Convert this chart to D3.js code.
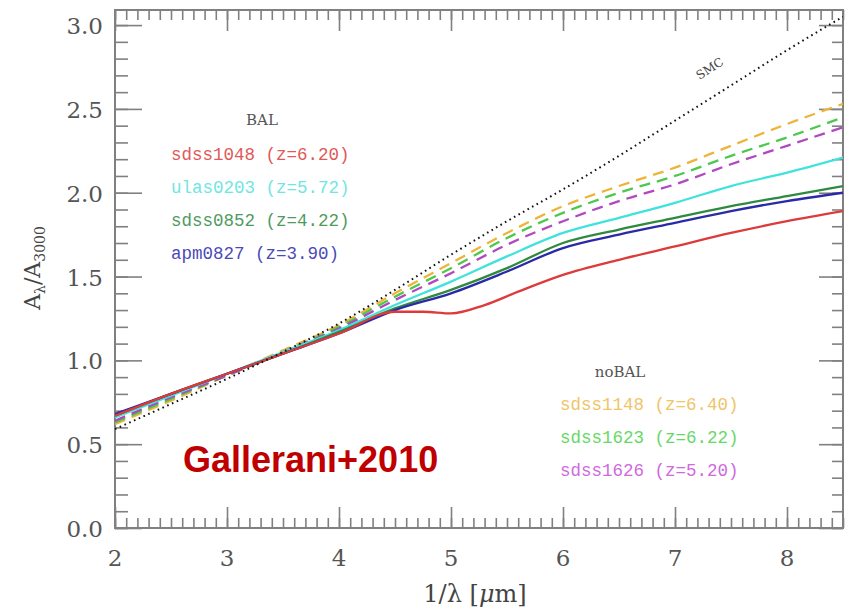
<!DOCTYPE html>
<html>
<head>
<meta charset="utf-8">
<script src="https://cdn.jsdelivr.net/npm/d3@7"></script>
<style>
  html, body { margin: 0; padding: 0; background: #fff; }
  svg { display: block; }
</style>
</head>
<body>
<svg id="chart" width="856" height="609"></svg>
<script>
// ---------- data ----------
const xGrid = [2, 2.5, 3, 3.5, 4, 4.5, 5, 5.5, 6, 6.5, 7, 7.5, 8, 8.5];

const smcX = [2, 2.5, 3, 3.5, 4, 4.5, 5, 5.5, 6, 6.5, 7, 7.5, 8, 8.5];
const smcY = [0.59, 0.74, 0.89, 1.05, 1.22, 1.42, 1.63, 1.83, 2.02, 2.22, 2.43, 2.64, 2.85, 3.05];

const redX = [2, 2.5, 3, 3.5, 4, 4.5, 4.75, 5, 5.3, 5.6, 6, 6.5, 7, 7.5, 8, 8.5];
const redY = [0.67, 0.80, 0.92, 1.04, 1.16, 1.29, 1.29, 1.28, 1.33, 1.41, 1.51, 1.60, 1.68, 1.76, 1.83, 1.89];

const blueY  = [0.68, 0.80, 0.92, 1.04, 1.16, 1.30, 1.40, 1.53, 1.67, 1.75, 1.82, 1.89, 1.95, 2.00];
const greenY = [0.67, 0.80, 0.92, 1.04, 1.17, 1.31, 1.42, 1.55, 1.70, 1.78, 1.85, 1.92, 1.98, 2.04];
const cyanY  = [0.66, 0.79, 0.92, 1.05, 1.18, 1.33, 1.47, 1.62, 1.76, 1.85, 1.94, 2.04, 2.12, 2.21];
const magY   = [0.64, 0.78, 0.91, 1.05, 1.19, 1.36, 1.52, 1.69, 1.83, 1.95, 2.05, 2.17, 2.28, 2.39];
const lgrY   = [0.63, 0.77, 0.91, 1.05, 1.20, 1.38, 1.55, 1.73, 1.88, 2.00, 2.10, 2.22, 2.33, 2.45];
const orgY   = [0.62, 0.76, 0.91, 1.06, 1.21, 1.40, 1.58, 1.76, 1.92, 2.04, 2.15, 2.28, 2.41, 2.53];

const xTicks = [2, 3, 4, 5, 6, 7, 8];
const yTicks = [0.0, 0.5, 1.0, 1.5, 2.0, 2.5, 3.0];

const balNames = ["sdss1048 (z=6.20)", "ulas0203 (z=5.72)", "sdss0852 (z=4.22)", "apm0827 (z=3.90)"];
const balColors = ["#dd3a3a", "#3fe3dc", "#2f8a3f", "#2a2aa8"];
const balText = ["#e05858", "#70e6e2", "#4f9a5f", "#4a4ab8"];
const nobalNames = ["sdss1148 (z=6.40)", "sdss1623 (z=6.22)", "sdss1626 (z=5.20)"];
const nobalColors = ["#eeb43a", "#4cc84c", "#b048c0"];
const nobalText = ["#f0c468", "#66d866", "#d068e0"];

// ---------- layout ----------
const svg = d3.select("#chart");
const L = 115, R = 843, T = 10, B = 528;
const x = d3.scaleLinear().domain([2, 8.5]).range([L, R]);
const y = d3.scaleLinear().domain([0, 3.09]).range([B, T]);

const axisCol = "#808080";
const labCol = "#555";

// frame
svg.append("rect").attr("x", L).attr("y", T).attr("width", R - L).attr("height", B - T)
  .attr("fill", "none").attr("stroke", axisCol).attr("stroke-width", 2);

// minor & major ticks via d3 axes (inward)
const xMinor = d3.range(20, 86).map(d => d / 10);
const yMinor = d3.range(0, 31).map(d => d / 10);

function tickGroup(axis, tx, ty) {
  const g = svg.append("g").attr("transform", `translate(${tx},${ty})`).call(axis);
  g.select(".domain").remove();
  g.selectAll("line").attr("stroke", axisCol).attr("stroke-width", 1.6);
  g.selectAll("text").remove();
  return g;
}
// bottom
tickGroup(d3.axisTop(x).tickValues(xMinor).tickSize(10), 0, B);
tickGroup(d3.axisTop(x).tickValues(xTicks).tickSize(21), 0, B);
// top
tickGroup(d3.axisBottom(x).tickValues(xMinor).tickSize(10), 0, T);
tickGroup(d3.axisBottom(x).tickValues(xTicks).tickSize(21), 0, T);
// left
tickGroup(d3.axisRight(y).tickValues(yMinor).tickSize(13), L, 0);
tickGroup(d3.axisRight(y).tickValues(yTicks).tickSize(27), L, 0);
// right
tickGroup(d3.axisLeft(y).tickValues(yMinor).tickSize(11), R, 0);
tickGroup(d3.axisLeft(y).tickValues(yTicks).tickSize(24), R, 0);

// tick labels
svg.append("g").selectAll("text").data(xTicks).join("text")
  .attr("x", d => x(d)).attr("y", 566)
  .attr("text-anchor", "middle")
  .attr("font-family", "DejaVu Serif").attr("font-size", 23).attr("fill", labCol)
  .text(d => d);
svg.append("g").selectAll("text").data(yTicks).join("text")
  .attr("x", 103).attr("y", d => y(d) + 9)
  .attr("text-anchor", "end")
  .attr("font-family", "DejaVu Serif").attr("font-size", 23).attr("fill", labCol)
  .text(d => d3.format(".1f")(d));

// axis titles
const xt = svg.append("text").attr("x", 475).attr("y", 602).attr("text-anchor", "middle")
  .attr("font-family", "DejaVu Serif").attr("font-size", 24).attr("fill", "#444");
xt.append("tspan").text("1/λ [");
xt.append("tspan").attr("font-style", "italic").text("μ");
xt.append("tspan").text("m]");

const yt = svg.append("text").attr("transform", "translate(40,268) rotate(-90)")
  .attr("text-anchor", "middle")
  .attr("font-family", "DejaVu Serif").attr("font-size", 22).attr("fill", "#444");
yt.append("tspan").text("A");
yt.append("tspan").attr("font-size", 14).attr("dy", 5).text("λ");
yt.append("tspan").attr("dy", -5).text("/A");
yt.append("tspan").attr("font-size", 14).attr("dy", 5).text("3000");

// ---------- curves ----------
const clipId = "plotclip";
svg.append("clipPath").attr("id", clipId).append("rect")
  .attr("x", L).attr("y", T).attr("width", R - L).attr("height", B - T);
const plot = svg.append("g").attr("clip-path", `url(#${clipId})`);

const line = d3.line().x(d => x(d[0])).y(d => y(d[1])).curve(d3.curveMonotoneX);
const zipXY = (xs, ys) => xs.map((v, i) => [v, ys[i]]);

const series = [
  { pts: zipXY(xGrid, orgY), color: nobalColors[0], dash: "11,7" },
  { pts: zipXY(xGrid, lgrY), color: nobalColors[1], dash: "11,7" },
  { pts: zipXY(xGrid, magY), color: nobalColors[2], dash: "11,7" },
  { pts: zipXY(xGrid, cyanY), color: balColors[1], dash: null },
  { pts: zipXY(xGrid, greenY), color: balColors[2], dash: null },
  { pts: zipXY(xGrid, blueY), color: balColors[3], dash: null },
  { pts: zipXY(redX, redY), color: balColors[0], dash: null },
];
series.forEach(s => {
  plot.append("path").attr("d", line(s.pts)).attr("fill", "none")
    .attr("stroke", s.color).attr("stroke-width", 2.3)
    .attr("stroke-dasharray", s.dash);
});

// SMC dotted
plot.append("path").attr("d", line(zipXY(smcX, smcY))).attr("fill", "none")
  .attr("stroke", "#111").attr("stroke-width", 2)
  .attr("stroke-dasharray", "1.6,3.6");

svg.append("text").attr("transform", "translate(712,72) rotate(-33)")
  .attr("text-anchor", "middle")
  .attr("font-family", "DejaVu Serif").attr("font-size", 12).attr("fill", "#444")
  .text("SMC");

// ---------- legends ----------
svg.append("text").attr("x", 262).attr("y", 125).attr("text-anchor", "middle")
  .attr("font-family", "DejaVu Serif").attr("font-size", 15).attr("fill", "#555")
  .text("BAL");
svg.append("g").selectAll("text").data(balNames).join("text")
  .attr("x", 171).attr("y", (d, i) => 160 + i * 33)
  .attr("font-family", "Liberation Mono").attr("font-size", 17.5)
  .attr("fill", (d, i) => balText[i])
  .text(d => d);

svg.append("text").attr("x", 620).attr("y", 377).attr("text-anchor", "middle")
  .attr("font-family", "DejaVu Serif").attr("font-size", 15).attr("fill", "#555")
  .text("noBAL");
svg.append("g").selectAll("text").data(nobalNames).join("text")
  .attr("x", 560).attr("y", (d, i) => 410 + i * 33)
  .attr("font-family", "Liberation Mono").attr("font-size", 17.5)
  .attr("fill", (d, i) => nobalText[i])
  .text(d => d);

// annotation
svg.append("text").attr("x", 183).attr("y", 472)
  .attr("font-family", "Liberation Sans, Arial, sans-serif").attr("font-weight", "bold")
  .attr("font-size", 36).attr("fill", "#c00000")
  .text("Gallerani+2010");
</script>
</body>
</html>
